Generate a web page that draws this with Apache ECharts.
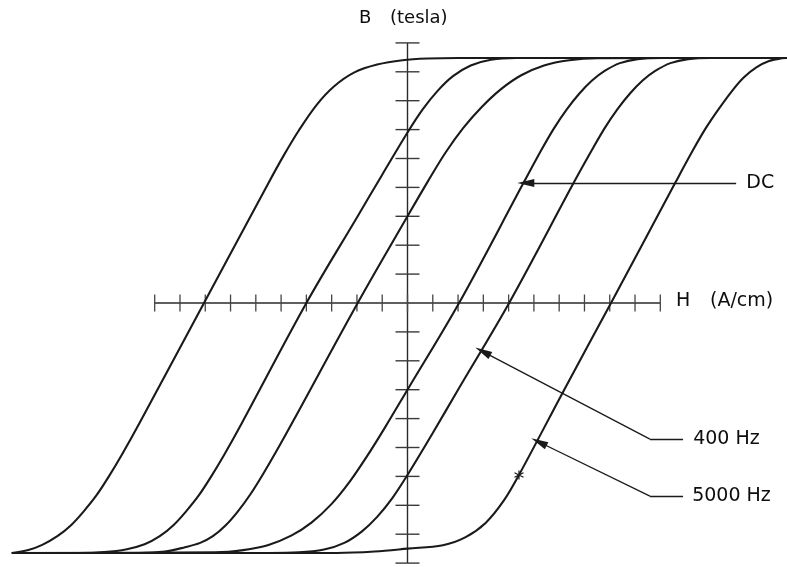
<!DOCTYPE html>
<html>
<head>
<meta charset="utf-8">
<script src="https://cdn.jsdelivr.net/npm/echarts@6/dist/echarts.min.js"></script>
<style>
  html, body { margin: 0; padding: 0; background: #ffffff; }
  #chart { width: 787px; height: 567px; }
</style>
</head>
<body>
<div id="chart"></div>
<script>
// Hysteresis loops of a magnetic core, B (tesla) against H (A/cm),
// both in axis divisions, for DC, 400 Hz and 5000 Hz excitation.

const hTicks = [-10, -9, -8, -7, -6, -5, -4, -3, -2, -1, 0, 1, 2, 3, 4, 5, 6, 7, 8, 9, 10];
const bTicks = [-9, -8, -7, -6, -5, -4, -3, -2, -1, 0, 1, 2, 3, 4, 5, 6, 7, 8, 9];

// Each loop = rising branch (lower-left to upper-right) + falling branch.
const dcRising = [
  [-15.65, -8.65], [-7.6, -8.63], [-6.5, -8.55], [-5.5, -8.37], [-4.6, -8.05], [-3.8, -7.6],
  [-3.0, -6.95], [-2.3, -6.2], [-1.6, -5.3], [-0.9, -4.32], [0, -3.0], [2.04, 0], [4.58, 4.14],
  [5.3, 5.3], [5.8, 6.05], [6.3, 6.7], [6.8, 7.25], [7.3, 7.7], [7.8, 8.03], [8.4, 8.3],
  [9.1, 8.44], [10, 8.48], [15, 8.48]
];
const dcFalling = [
  [15, 8.48], [7.5, 8.47], [6.4, 8.4], [5.4, 8.22], [4.5, 7.88], [3.7, 7.4], [2.9, 6.75],
  [2.2, 6.05], [1.5, 5.2], [0.8, 4.2], [0, 3.0], [-1.97, 0], [-4.5, -4.05], [-5.2, -5.15],
  [-5.7, -5.9], [-6.2, -6.6], [-6.7, -7.2], [-7.2, -7.7], [-7.7, -8.07], [-8.2, -8.3],
  [-8.8, -8.45], [-9.6, -8.6], [-10.6, -8.65], [-15.65, -8.65]
];
const hz400Rising = [
  [-15.65, -8.65], [-5.5, -8.65], [-4.3, -8.63], [-3.3, -8.53], [-2.5, -8.3], [-1.8, -7.9],
  [-1.2, -7.4], [-0.6, -6.75], [0, -5.95], [1.0, -4.5], [2.0, -3.0], [4.02, 0], [6.6, 4.2],
  [7.3, 5.3], [7.8, 6.05], [8.3, 6.7], [8.8, 7.25], [9.3, 7.7], [9.8, 8.03], [10.4, 8.3],
  [11.1, 8.44], [12, 8.48], [15, 8.48]
];
const hz400Falling = [
  [15, 8.48], [4.3, 8.48], [3.3, 8.42], [2.5, 8.22], [1.8, 7.85], [1.2, 7.35], [0.6, 6.7],
  [0, 5.9], [-1, 4.44], [-2, 2.96], [-4.0, 0], [-6.55, -4.15], [-7.25, -5.25], [-7.75, -5.98],
  [-8.25, -6.65], [-8.75, -7.2], [-9.25, -7.68], [-9.8, -8.07], [-10.4, -8.35], [-11.1, -8.52],
  [-12, -8.62], [-13, -8.65], [-15.65, -8.65]
];
const hz5000Rising = [
  [-15.65, -8.65], [-2.8, -8.65], [-1.3, -8.6], [0, -8.5], [1.4, -8.38], [2.3, -8.1],
  [3.1, -7.6], [3.8, -6.85], [4.41, -5.95], [6.2, -3.0], [8.05, 0], [10.58, 4.14],
  [11.3, 5.3], [11.8, 6.05], [12.3, 6.7], [12.85, 7.35], [13.3, 7.8], [13.8, 8.15],
  [14.3, 8.37], [14.8, 8.47], [15, 8.48]
];
const hz5000Falling = [
  [15, 8.48], [2, 8.48], [0.8, 8.46], [-0.2, 8.4], [-1.2, 8.25], [-2.1, 7.98], [-2.9, 7.5],
  [-3.6, 6.85], [-4.3, 5.97], [-4.9, 5.1], [-5.52, 4.12], [-8.05, 0], [-10.6, -4.15],
  [-11.3, -5.25], [-11.8, -5.98], [-12.3, -6.65], [-12.8, -7.2], [-13.3, -7.68],
  [-13.85, -8.07], [-14.45, -8.37], [-15.0, -8.55], [-15.65, -8.65]
];

// Callout geometry (axis divisions): arrow tip, elbow, tail, label anchor
const calloutDC = { tip: [4.68, 4.15], tail: [13.0, 4.15], label: [13.4, 4.15], text: 'DC' };
const callout400 = { tip: [2.98, -1.68], elbow: [9.59, -4.71], tail: [10.9, -4.71], label: [11.3, -4.71], text: '400 Hz' };
const callout5000 = { tip: [5.2, -4.81], elbow: [9.59, -6.68], tail: [10.9, -6.68], label: [11.26, -6.68], text: '5000 Hz' };
const starPoint = [4.41, -5.95];

const INK = '#1a1a1a';
const TEXT = '#0d0d0d';
const FONT = 'DejaVu Sans';
const FONT_SIZE = 18;
const CALLOUT_FONT_SIZE = 19;

function branch(data) {
  return {
    type: 'line', data, symbol: 'none', smooth: 0.35,
    lineStyle: { color: INK, width: 2.1 }, clip: false, z: 3, silent: true
  };
}

function title(text, x, y, size) {
  return {
    type: 'text', x, y, silent: true,
    style: { text, fill: TEXT, font: size + 'px "' + FONT + '"', align: 'left', verticalAlign: 'middle' }
  };
}

const chart = echarts.init(document.getElementById('chart'), null, { renderer: 'canvas' });

// Grid: 1 H division = 25.28 px, 1 B division = 28.9 px, origin at (407.5, 303)
const option = {
  backgroundColor: '#ffffff',
  animation: false,
  grid: { left: 3.02, width: 783.68, top: 42.9, height: 520.2, containLabel: false },
  xAxis: { type: 'value', min: -16, max: 15, show: false },
  yAxis: { type: 'value', min: -9, max: 9, show: false },
  series: [
    // axes drawn as crosshair with ticks on both sides
    {
      type: 'line', data: [[hTicks[0], 0], [hTicks[hTicks.length - 1], 0]], symbol: 'none',
      lineStyle: { color: '#2a2a2a', width: 1.4 }, z: 2, silent: true
    },
    {
      type: 'line', data: [[0, bTicks[0]], [0, bTicks[bTicks.length - 1]]], symbol: 'none',
      lineStyle: { color: '#2a2a2a', width: 1.4 }, z: 2, silent: true
    },
    {
      type: 'scatter', data: hTicks.map(h => [h, 0]), symbol: 'rect', symbolSize: [1.3, 17],
      itemStyle: { color: '#444444', opacity: 1 }, z: 2, silent: true, clip: false
    },
    {
      type: 'scatter', data: bTicks.filter(b => b !== 0).map(b => [0, b]), symbol: 'rect', symbolSize: [24, 1.4],
      itemStyle: { color: '#3a3a3a', opacity: 1 }, z: 2, silent: true, clip: false
    },
    // loops
    branch(dcRising), branch(dcFalling),
    branch(hz400Rising), branch(hz400Falling),
    branch(hz5000Rising), branch(hz5000Falling),
    // star mark on the 5000 Hz branch
    {
      type: 'scatter', data: [starPoint], symbol: 'path://M0,-5L0,5M-4.3,-2.5L4.3,2.5M-4.3,2.5L4.3,-2.5',
      symbolSize: 9, itemStyle: { color: 'none', borderColor: INK, borderWidth: 1.2, opacity: 1 }, z: 4, silent: true
    },
    // callouts
    {
      type: 'line', data: [], silent: true,
      markLine: {
        silent: true, animation: false, symbol: ['none', 'none'],
        lineStyle: { color: INK, width: 1.3, type: 'solid' }, label: { show: false },
        emphasis: { disabled: true },
        data: [
          [{ coord: calloutDC.tail, symbol: 'none' }, { coord: calloutDC.tip, symbol: 'triangle', symbolSize: [8, 17] }],
          [{ coord: callout400.tail, symbol: 'none' }, { coord: callout400.elbow, symbol: 'none' }],
          [{ coord: callout400.elbow, symbol: 'none' }, { coord: callout400.tip, symbol: 'triangle', symbolSize: [8, 17] }],
          [{ coord: callout5000.tail, symbol: 'none' }, { coord: callout5000.elbow, symbol: 'none' }],
          [{ coord: callout5000.elbow, symbol: 'none' }, { coord: callout5000.tip, symbol: 'triangle', symbolSize: [8, 17] }]
        ]
      }
    },
    {
      type: 'scatter', silent: true, symbolSize: 0, z: 5,
      itemStyle: { opacity: 1 },
      data: [calloutDC, callout400, callout5000].map(c => ({ value: c.label, name: c.text })),
      label: {
        show: true, position: 'right', distance: 0, formatter: p => p.name,
        fontFamily: FONT, fontSize: CALLOUT_FONT_SIZE, color: TEXT
      }
    }
  ],
  graphic: [
    title('B', 359, 18, FONT_SIZE),
    title('(tesla)', 390, 18, FONT_SIZE),
    title('H', 676, 301, CALLOUT_FONT_SIZE),
    title('(A/cm)', 710, 301, CALLOUT_FONT_SIZE)
  ]
};

chart.setOption(option);
</script>
</body>
</html>
